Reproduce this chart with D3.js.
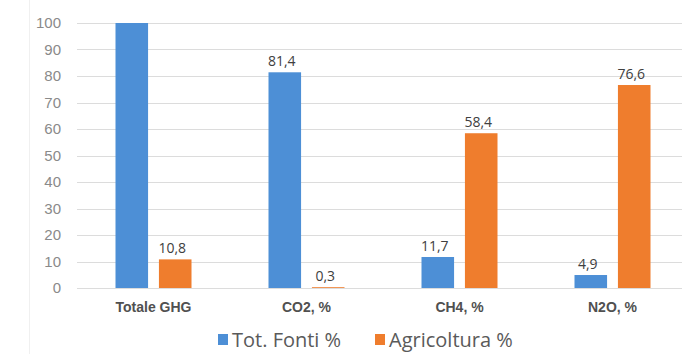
<!DOCTYPE html>
<html>
<head>
<meta charset="utf-8">
<script src="https://cdn.jsdelivr.net/npm/d3@7"></script>
<style>
  body { margin: 0; background: #fff; }
  svg { display: block; font-family: "Open Sans", sans-serif; }
</style>
</head>
<body>
<div id="chart"></div>
<script>
const categories = ["Totale GHG", "CO2, %", "CH4, %", "N2O, %"];
const seriesNames = ["Tot. Fonti %", "Agricoltura %"];
const totFonti = [100, 81.4, 11.7, 4.9];
const agricoltura = [10.8, 0.3, 58.4, 76.6];
const yTicks = [0, 10, 20, 30, 40, 50, 60, 70, 80, 90, 100];
const colors = ["#4d8fd6", "#ef7d2d"];

const width = 682;
const height = 354;
const plotLeft = 77, plotRight = 689, plotTop = 23, plotBottom = 288;

const rows = categories.map((c, i) => ({ cat: c, values: [totFonti[i], agricoltura[i]] }));

const svg = d3.select("#chart").append("svg")
    .attr("width", width)
    .attr("height", height);

// faint frame line on the left
svg.append("line")
    .attr("x1", 29.5).attr("x2", 29.5)
    .attr("y1", 0).attr("y2", height)
    .attr("stroke", "#f0f0f0");

let y = d3.scaleLinear().domain([0, 100]).range([plotBottom, plotTop]);
let x0 = d3.scaleBand().domain(categories).range([plotLeft, plotRight]);
let x1 = d3.scaleBand().domain([0, 1]).range([-38, 38]).paddingInner(0.25);

// gridlines
svg.append("g")
    .selectAll("line")
    .data(yTicks)
    .enter()
    .append("line")
        .attr("x1", plotLeft)
        .attr("x2", width)
        .attr("y1", d => Math.round(y(d)) + 0.5)
        .attr("y2", d => Math.round(y(d)) + 0.5)
        .attr("stroke", "#dcdcdc");

// y axis labels
let y_axis = d3.axisLeft(y).tickValues(yTicks).tickSize(0).tickPadding(0);
let yg = svg.append("g")
    .attr("transform", `translate(61, 0)`)
    .call(y_axis);
yg.select(".domain").remove();
yg.selectAll("text")
    .style("font-size", "15px")
    .style("fill", "#8a8a8a");

// x axis labels
let x_axis = d3.axisBottom(x0).tickSize(0).tickPadding(0);
let xg = svg.append("g")
    .attr("transform", `translate(0, 302)`)
    .call(x_axis);
xg.select(".domain").remove();
xg.selectAll("text")
    .style("font-size", "14px")
    .style("font-weight", "bold")
    .style("fill", "#505050");

// bars
let groups = svg.selectAll(".grp")
    .data(rows)
    .enter()
    .append("g")
        .attr("class", "grp")
        .attr("transform", d => `translate(${x0(d.cat) + x0.bandwidth() / 2}, 0)`);

groups.selectAll("rect")
    .data(d => d.values.map((v, i) => ({ v: v, i: i })))
    .enter()
    .append("rect")
        .attr("x", d => x1(d.i))
        .attr("width", x1.bandwidth())
        .attr("y", d => y(d.v))
        .attr("height", d => plotBottom - y(d.v))
        .attr("fill", d => colors[d.i]);

// data labels (none shown for the 100 bar)
groups.selectAll("text")
    .data(d => d.values.map((v, i) => ({ v: v, i: i })).filter(e => e.v < 100))
    .enter()
    .append("text")
        .attr("x", d => x1(d.i) + x1.bandwidth() / 2 - 3)
        .attr("y", d => y(d.v) - 6)
        .attr("text-anchor", "middle")
        .style("font-size", "14px")
        .style("fill", "#404040")
        .text(d => d3.format(".1f")(d.v).replace(".", ","));

// legend
const legendX = [218, 375];
let legend = svg.selectAll(".legend")
    .data(seriesNames)
    .enter()
    .append("g")
        .attr("class", "legend")
        .attr("transform", (d, i) => `translate(${legendX[i]}, 340)`);

legend.append("rect")
    .attr("x", 0).attr("y", -6)
    .attr("width", 10).attr("height", 11)
    .attr("fill", (d, i) => colors[i]);

legend.append("text")
    .attr("x", 14)
    .attr("y", 7)
    .style("font-size", "20px")
    .style("fill", "#5a5a5a")
    .text(d => d);
</script>
</body>
</html>
